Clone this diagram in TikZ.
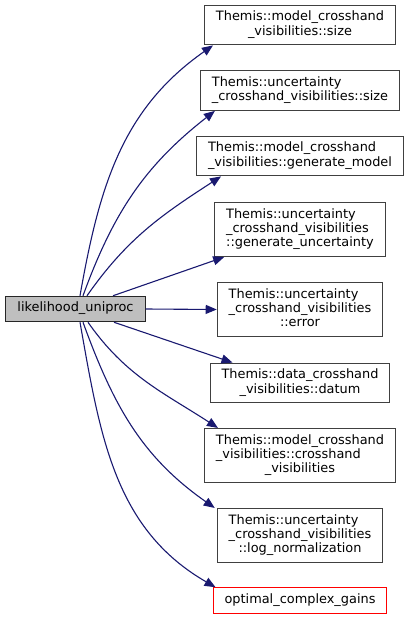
\documentclass[tikz,border=0pt]{standalone}
\usepackage{fontspec}
\setmainfont{DejaVu Sans}
\usetikzlibrary{arrows.meta}

\definecolor{edgeblue}{HTML}{191970}
\definecolor{boxline}{HTML}{404040}
\definecolor{rootfill}{HTML}{BFBFBF}
\definecolor{undocred}{HTML}{FF0000}

% left-aligned lines, the last one centred
\newcommand{\fnlabel}[1]{\begin{tabular}{@{}l@{}}#1\end{tabular}}
\newcommand{\lastln}[1]{\multicolumn{1}{@{}c@{}}{#1}}

\begin{document}
\begin{tikzpicture}[x=1pt, y=1pt,
      font=\fontsize{12.9}{14.3}\selectfont,
      callee/.style={rectangle, draw=boxline, fill=white, line width=1pt,
                     inner xsep=11.5pt, inner ysep=5.6pt},
      caller/.style={callee, draw=black!85, fill=rootfill},
      undoc/.style={rectangle, draw=undocred, fill=white, line width=1pt,
                    inner xsep=11.5pt, inner ysep=5.6pt},
      call/.style={-{Triangle[length=11pt, width=9pt]}, edgeblue, line width=1.1pt},
    ]
    \useasboundingbox (0,0) rectangle (411,-620);

    % Caller
    \node[caller] (root) at (75.5,-309) {\fnlabel{likelihood\_uniproc}};

    % Callees
    \node[callee] (size) at (300,-25)
      {\fnlabel{Themis::model\_crosshand\\ \lastln{\_visibilities::size}}};
    \node[callee] (usize) at (300,-90.5)
      {\fnlabel{Themis::uncertainty\\ \lastln{\_crosshand\_visibilities::size}}};
    \node[callee] (genmodel) at (300,-156)
      {\fnlabel{Themis::model\_crosshand\\ \lastln{\_visibilities::generate\_model}}};
    \node[callee] (genunc) at (300,-229.5)
      {\fnlabel{Themis::uncertainty\\ \_crosshand\_visibilities\\ \lastln{::generate\_uncertainty}}};
    \node[callee] (error) at (300,-309.5)
      {\fnlabel{Themis::uncertainty\\ \_crosshand\_visibilities\\ \lastln{::error}}};
    \node[callee] (datum) at (300,-383)
      {\fnlabel{Themis::data\_crosshand\\ \lastln{\_visibilities::datum}}};
    \node[callee] (crossvis) at (300,-455.5)
      {\fnlabel{Themis::model\_crosshand\\ \_visibilities::crosshand\\ \lastln{\_visibilities}}};
    \node[callee] (lognorm) at (300,-535.5)
      {\fnlabel{Themis::uncertainty\\ \_crosshand\_visibilities\\ \lastln{::log\_normalization}}};
    \node[undoc] (gains) at (300,-600.5) {\fnlabel{optimal\_complex\_gains}};

    % Calls above
    \draw[call] ([xshift=4.5pt]root.north) to[out=80, in=215]
      ([xshift=9pt]size.south west);
    \draw[call] ([xshift=7.5pt]root.north) to[out=70, in=218]
      ([xshift=15pt]usize.south west);
    \draw[call] ([xshift=11.5pt]root.north) to[out=55, in=213]
      ([xshift=25pt]genmodel.south west);
    \draw[call] ([xshift=37.5pt]root.north) -- ([xshift=10pt]genunc.south west);

    % Straight call
    \draw[call] (root.east) -- (error.west);

    % Calls below
    \draw[call] ([xshift=38.5pt]root.south) -- ([xshift=23pt]datum.north west);
    \draw[call] ([xshift=12.5pt]root.south) to[out=-55, in=147]
      ([xshift=14pt]crossvis.north west);
    \draw[call] ([xshift=7.5pt]root.south) to[out=-70, in=145]
      ([xshift=-2pt]lognorm.north west);
    \draw[call] ([xshift=4.5pt]root.south) to[out=-80, in=150]
      ([xshift=3pt]gains.north west);

  \end{tikzpicture}
\end{document}
